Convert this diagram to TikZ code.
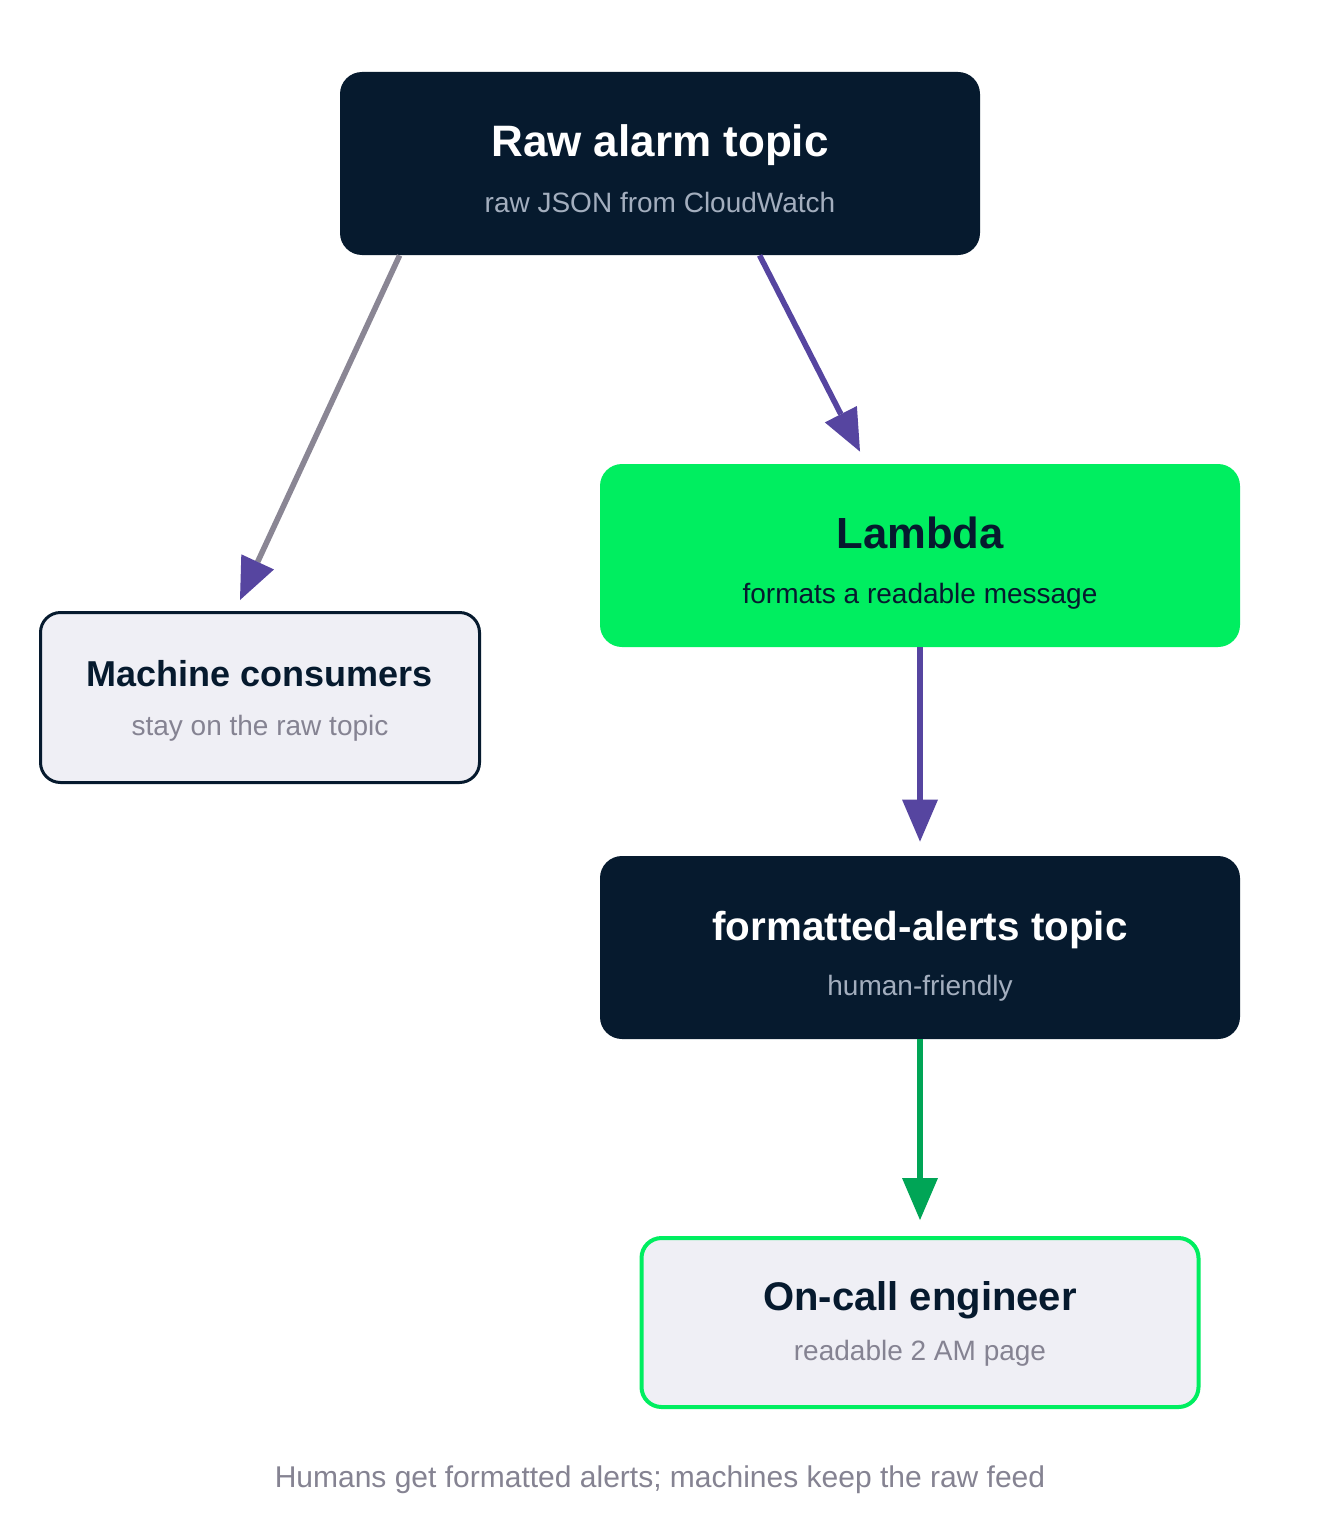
\documentclass[tikz,border=0pt]{standalone}
\usepackage{fontspec}
\setmainfont{Liberation Sans}
\usepackage{xcolor}
\usepackage{tikz}
\usetikzlibrary{arrows.meta,positioning}
\definecolor{alarmnavy}{HTML}{061A2E}
\definecolor{alarmgreen}{HTML}{00EE60}
\definecolor{alarmdeep}{HTML}{00A556}
\definecolor{alarmpurple}{HTML}{5645A0}
\definecolor{alarmgray}{HTML}{8A8694}
\definecolor{alarmmist}{HTML}{EFEFF5}
\definecolor{alarmsteel}{HTML}{A3AEBE}
\definecolor{alarmslate}{HTML}{858392}

\begin{document}
\begin{tikzpicture}[x=0.5pt,y=-0.5pt,
  topic/.style={rectangle, rounded corners=11pt, fill=alarmnavy, inner sep=0pt,
    minimum width=320pt, minimum height=91.5pt},
  worker/.style={topic, fill=alarmgreen},
  sink/.style={rectangle, rounded corners=10pt, fill=alarmmist, inner sep=0pt},
  head/.style={font=\bfseries\fontsize{21}{21}\selectfont, inner sep=0pt, anchor=base},
  note/.style={font=\fontsize{14}{14}\selectfont, inner sep=0pt, anchor=base},
  tip/.style={-{Triangle[length=21pt,width=18pt,line width=0pt,color=#1]}},
  flow/.style={line width=2.8pt, draw=alarmpurple, tip=alarmpurple},
]
  \useasboundingbox[fill=white] (0,0) rectangle (1320,1520);

  % boxes
  \node[topic] (raw) at (660,163.5) {};
  \node[worker] (lambda) at (920,555.5) {};
  \node[topic] (fmt) at (920,947.5) {};
  \node[sink, draw=alarmnavy, line width=1.5pt, minimum width=219.5pt, minimum height=85pt]
    (machine) at (260,697.5) {};
  \node[sink, draw=alarmgreen, line width=2pt, minimum width=278.5pt, minimum height=84.5pt]
    (oncall) at (920,1322.5) {};

  % labels
  \node[head, text=white, font=\bfseries\fontsize{22}{22}\selectfont]
    (rawhead) at (660,156) {Raw alarm topic};
  \node[note, text=alarmsteel] (rawnote) at (660,212) {raw JSON from CloudWatch};
  \node[head, text=alarmnavy, font=\bfseries\fontsize{21.8}{21.8}\selectfont]
    (lambdahead) at (920,548) {Lambda};
  \node[note, text=alarmnavy] (lambdanote) at (920,603) {formats a readable message};
  \node[head, text=white, font=\bfseries\fontsize{20.2}{20.2}\selectfont]
    (fmthead) at (920,940) {formatted-alerts topic};
  \node[note, text=alarmsteel] (fmtnote) at (920,995) {human-friendly};
  \node[head, text=alarmnavy, font=\bfseries\fontsize{18}{18}\selectfont]
    (machinehead) at (260,686) {Machine consumers};
  \node[head, text=alarmnavy, font=\bfseries\fontsize{20}{20}\selectfont]
    (oncallhead) at (920,1310) {On-call engineer};
  \node[note, text=alarmslate] (machinenote) at (260,735) {stay on the raw topic};
  \node[note, text=alarmslate] (oncallnote) at (920,1360) {readable 2 AM page};

  \node[note, text=alarmslate, font=\fontsize{15}{15}\selectfont]
    (caption) at (660,1487) {Humans get formatted alerts; machines keep the raw feed};

  % connectors
  \draw[flow, draw=alarmgray] ([xshift=30pt]raw.south west)
    -- ([xshift=-10pt,yshift=5.5pt]machine.north);
  \draw[flow] ([xshift=210pt]raw.south west)
    -- ([xshift=-30pt,yshift=6pt]lambda.north);
  \draw[flow] (lambda.south) -- ([yshift=7pt]fmt.north);
  \draw[flow, draw=alarmdeep, tip=alarmdeep] (fmt.south) -- ([yshift=8pt]oncall.north);
\end{tikzpicture}
\end{document}
